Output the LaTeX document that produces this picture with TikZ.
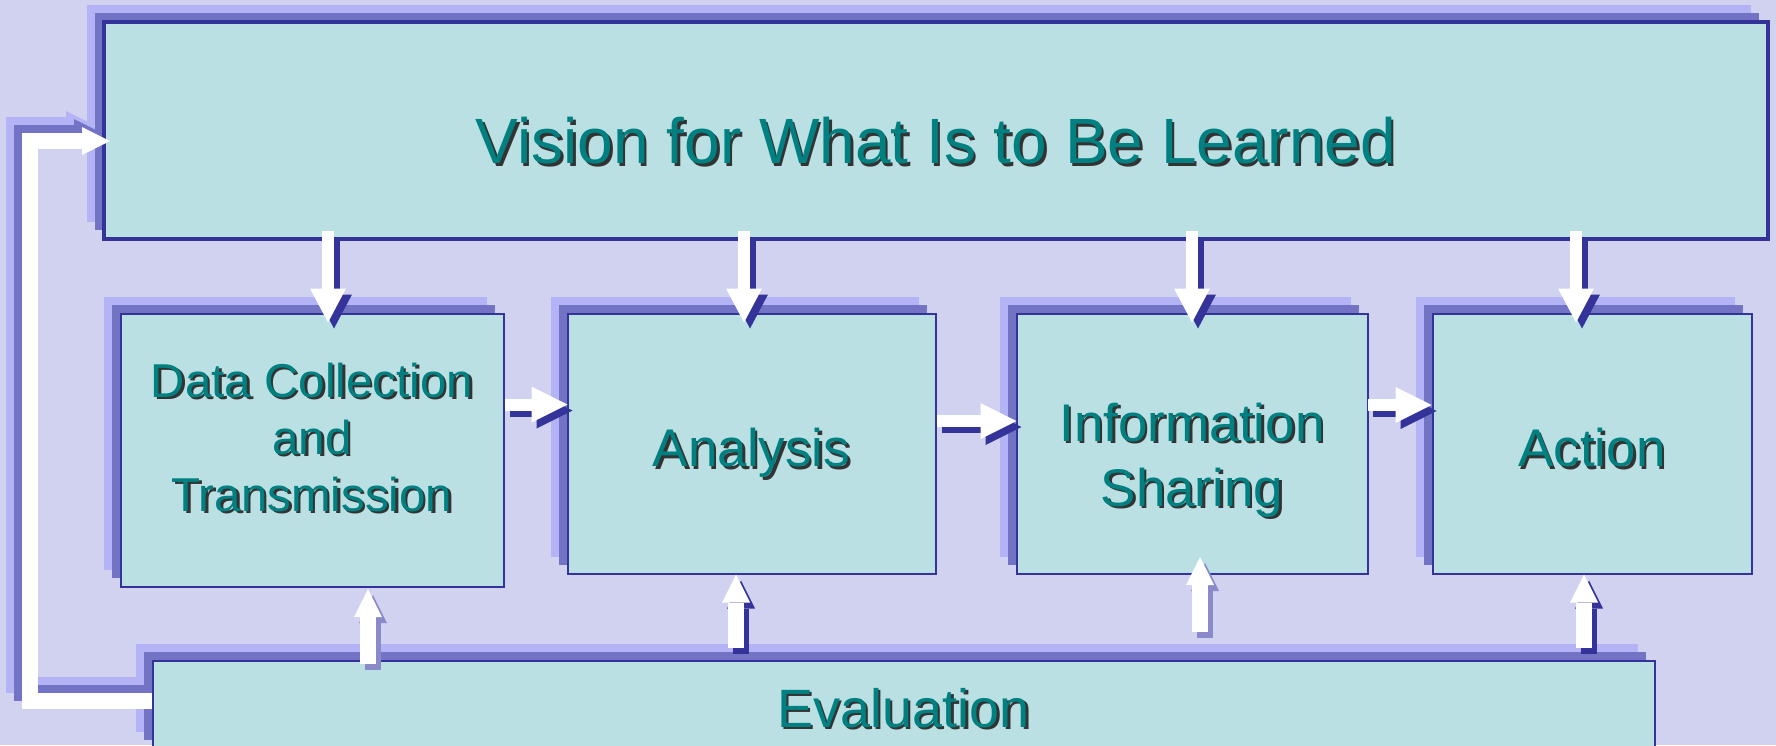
\documentclass[tikz,border=0pt]{standalone}
\usepackage{fontspec}
\setmainfont{Liberation Sans}
\usepackage{tikz}
\usetikzlibrary{arrows.meta,calc}

\definecolor{bgblue}{HTML}{D1D1F0}
\definecolor{boxfill}{HTML}{BAE0E3}
\definecolor{boxline}{HTML}{333399}
\definecolor{shmid}{HTML}{7373C6}
\definecolor{shlight}{HTML}{B3B3F5}
\definecolor{arrsh}{HTML}{8A8AC9}
\definecolor{txtteal}{HTML}{008080}

\newcommand{\shtext}[1]{\rlap{\kern2.5pt\raisebox{-2.5pt}{\color{black!80}#1}}#1}

\begin{document}
\begin{tikzpicture}[x=1pt,y=-1pt,
	box/.style={rectangle, draw=boxline, line width=2pt, fill=boxfill, inner sep=0pt, text=txtteal, align=center,
		preaction={fill=shlight, transform canvas={shift={(-17pt,17pt)}}},
		preaction={fill=shmid, transform canvas={shift={(-9pt,9pt)}}}},
	small/.style={font=\fontsize{53}{65}\selectfont, text depth=0pt},
	downarr/.style={draw=white, line width=12pt, -{Triangle[width=36pt,length=34pt,line width=0pt]},
		preaction={draw=boxline, line width=12pt, transform canvas={shift={(6pt,-6pt)}}}},
	rightarr/.style={draw=white, line width=12pt, -{Triangle[width=36pt,length=36pt,line width=0pt]},
		preaction={draw=boxline, line width=12pt, transform canvas={shift={(5pt,-6pt)}}}},
	uparr/.style={draw=white, line width=16pt, -{Triangle[width=28pt,length=28pt,line width=0pt]},
		preaction={draw=#1, line width=16pt, transform canvas={shift={(5pt,-6pt)}}}},
	backloop/.style={draw=white, line width=16pt, -{Triangle[width=28pt,length=28pt,line width=0pt]},
		preaction={draw=shlight, line width=16pt, transform canvas={shift={(-16pt,16pt)}}},
		preaction={draw=shmid, line width=16pt, transform canvas={shift={(-8pt,8pt)}}}}]

	\useasboundingbox (0,0) rectangle (1776,745);
	\clip (0,0) rectangle (1776,745);
	\fill[bgblue] (0,0) rectangle (1776,745);

	\node[box, line width=4pt, minimum width=1664pt, minimum height=217pt, text height=66pt, text depth=0pt,
		font=\fontsize{64}{77}\selectfont] (vision) at (936,130.5) {\shtext{Vision for What Is to Be Learned}};

	\node[box, minimum width=383pt, minimum height=273pt, font=\fontsize{47.5}{57}\selectfont, text depth=26pt]
		(dc) at (312,450) {\shtext{Data Collection}\\\shtext{and}\\\shtext{Transmission}};
	\node[box, small, minimum width=368pt, minimum height=260pt, text height=46pt] (an) at (751.5,443.5) {\shtext{Analysis}};
	\node[box, small, minimum width=351pt, minimum height=260pt, text height=125pt] (info) at (1192,443.5)
		{\shtext{Information}\\\shtext{Sharing}};
	\node[box, small, minimum width=319pt, minimum height=260pt, text height=46pt] (act) at (1592,443.5) {\shtext{Action}};

	\node[box, minimum width=1502pt, minimum height=88pt, font=\fontsize{54}{65}\selectfont, text height=44pt, text depth=0pt]
		(eval) at (903.5,705) {\shtext{Evaluation}};

	\draw[backloop] ($(eval.west)+(0,-4)$) -| ($(vision.west)+(-72,10.5)$) -- ($(vision.west)+(8,10.5)$);

	\draw[downarr] ($(vision.south -| dc.north)+(16,-10)$) -- ($(dc.north)+(16,10)$);
	\draw[downarr] ($(vision.south -| an.north)+(-7.5,-10)$) -- ($(an.north)+(-7.5,10)$);
	\draw[downarr] ($(vision.south -| info.north)+(0,-10)$) -- ($(info.north)+(0,10)$);
	\draw[downarr] ($(vision.south -| act.north)+(-16,-10)$) -- ($(act.north)+(-16,10)$);

	\draw[rightarr] ($(dc.east)+(0,-45.5)$) -- ($(an.west)+(1,-39)$);
	\draw[rightarr] ($(an.east)+(0,-22.5)$) -- ($(info.west)+(1,-22.5)$);
	\draw[rightarr] ($(info.east)+(-1,-38.5)$) -- ($(act.west)+(0,-38.5)$);

	\draw[uparr=arrsh] ($(eval.north -| dc.south)+(56,4)$) -- ($(dc.south)+(56,1.5)$);
	\draw[uparr=boxline] ($(eval.north -| an.south)+(-15.5,-12)$) -- ($(an.south)+(-15.5,0)$);
	\draw[uparr=arrsh] ($(eval.north -| info.south)+(8,-28)$) -- ($(info.south)+(8,-17.5)$);
	\draw[uparr=boxline] ($(eval.north -| act.south)+(-8,-12)$) -- ($(act.south)+(-8,0)$);
\end{tikzpicture}
\end{document}
